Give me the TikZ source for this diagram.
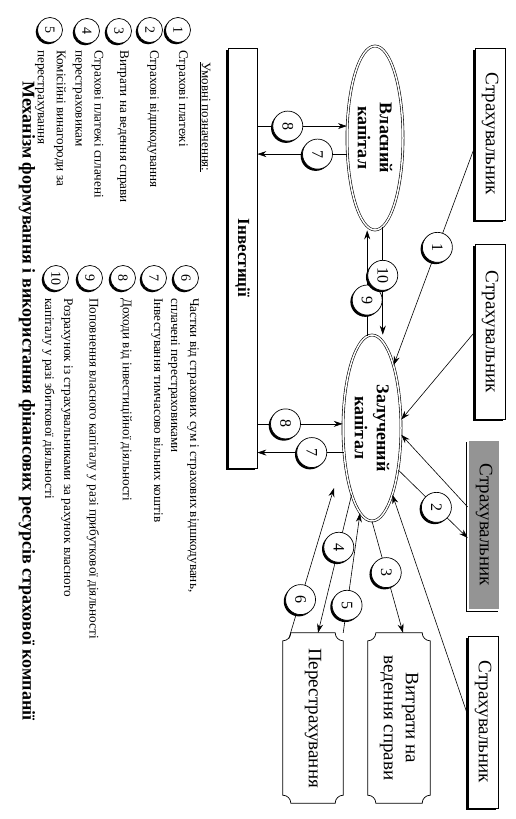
\documentclass[tikz,border=0pt]{standalone}
\usepackage{fontspec}
\setmainfont{Liberation Serif}
\usetikzlibrary{arrows.meta,shadows,calc,shapes.geometric}
\newcommand\ticketbox[2]{%
  \draw[line width=0.7pt] ($(#1.south west)+(#2,0)$) -- ($(#1.south east)+(-#2,0)$)
    arc[start angle=180,end angle=90,radius=#2] -- ($(#1.north east)+(0,-#2)$)
    arc[start angle=270,end angle=180,radius=#2] -- ($(#1.north west)+(#2,0)$)
    arc[start angle=0,end angle=-90,radius=#2] -- ($(#1.south west)+(0,#2)$)
    arc[start angle=90,end angle=0,radius=#2] -- cycle;}
\begin{document}
\begin{tikzpicture}[x=1pt,y=1pt,rotate=-90,transform shape,
  arr/.style={-{Stealth[length=9pt,width=6pt]}, line width=0.6pt},
  shad/.style={drop shadow={shadow xshift=-1.8pt,shadow yshift=-1.8pt,fill=black,opacity=1}},
  client/.style={draw, line width=0.7pt, fill=white, shad, minimum width=172pt, minimum height=30pt, inner sep=0pt, font=\fontsize{19}{19}\selectfont},
  capital/.style={ellipse, draw, double, double distance=1.5pt, line width=0.6pt, fill=white, inner sep=0pt, align=center, font=\bfseries\fontsize{18}{22}\selectfont},
  num/.style={circle, draw, line width=0.7pt, fill=white, shad, minimum size=30pt, inner sep=0pt, font=\fontsize{16}{16}\selectfont},
  lnum/.style={circle, draw, line width=0.7pt, fill=white, shad, minimum size=25pt, inner sep=0pt, font=\fontsize{14}{14}\selectfont},
  legtext/.style={anchor=west, align=left, inner sep=0pt, font=\fontsize{13.2}{19}\selectfont},
  flowbox/.style={minimum width=170pt, inner sep=0pt, align=center, font=\fontsize{19}{22}\selectfont}
]
\useasboundingbox (0,0) rectangle (819,516);

% clients
\node[client] (s1) at (134,490) {Страхувальник};
\node[client, minimum width=175pt] (s2) at (332,490) {Страхувальник};
\node[client, minimum width=170pt, minimum height=32pt, fill=black!42, double, double distance=1.6pt, line width=0.6pt] (s3) at (525,484) {Страхувальник};
\node[client] (s4) at (722,483) {Страхувальник};

% capitals
\node[capital, minimum width=184pt, minimum height=56pt] (vk) at (138,375) {Власний\\капітал};
\node[capital, minimum width=186pt, minimum height=58pt] (zk) at (428,372) {Залучений\\капітал};

% investments
\node[draw, line width=0.7pt, fill=white, shad, minimum width=420pt, minimum height=29pt, inner sep=0pt, font=\bfseries\fontsize{17}{17}\selectfont] (inv) at (258,242.5) {Інвестиції};

% expenses and reinsurance
\node[flowbox, minimum height=62pt] (witr) at (718,399) {Витрати на\\ведення справи};
\ticketbox{witr}{8}
\node[flowbox, minimum height=60pt] (pere) at (718,313) {Перестрахування};
\ticketbox{pere}{8}

\coordinate (t6) at (488,334);

% connectors
\draw[arr] ($(s1.south)+(13,0)$) -- node[num,pos=0.46] (c1) {1} (zk.161);
\draw[arr] (s2.south) -- (zk.106);
\draw[arr] ($(s3.south)+(-18,0)$) -- (zk.77);
\draw[arr] (zk.32) -- node[num,pos=0.55] (c2) {2} ($(s3.south)+(13,0)$);
\draw[arr] ($(s4.south)+(-7,0)$) -- (zk.17);
\draw[arr] (zk.east) -- node[num,pos=0.46] (c3) {3} ($(witr.west)+(0,4)$);
\draw[arr] (zk.-17) -- node[num,pos=0.38] (c4) {4} ($(pere.west)+(0,5)$);
\draw[arr] (pere.north west) -- node[num,pos=0.23] (c5) {5} (zk.-8);
\draw[arr] ($(pere.south west)+(6,6)$) -- node[num,pos=0.26] (c6) {6} (t6);

\draw[arr] (vk.247 |- inv.north) -- node[num,pos=0.34] (c8a) {8} (vk.247);
\draw[arr] (vk.-60) -- node[num,pos=0.33] (c7a) {7} (vk.-60 |- inv.north);
\draw[arr] (zk.262 |- inv.north) -- node[num,pos=0.33] (c8b) {8} (zk.262);
\draw[arr] (zk.-49) -- node[num,pos=0.37] (c7b) {7} (zk.-49 |- inv.north);

\draw[arr] (zk.183) -- node[num,pos=0.34] (c9) {9} (zk.183 -| vk.east);
\draw[arr] (vk.5) -- node[num,pos=0.45] (c10) {10} (vk.5 -| zk.west);

% legend
\node[legtext, font=\fontsize{13}{14}\selectfont] (lhead) at (62,205) {\underline{Умовні позначення:}};

\node[lnum] (l1) at (30,178) {1};
\node[legtext] (lt1) at (50,182) {Страхові платежі};
\node[lnum] (l2) at (30,150) {2};
\node[legtext] (lt2) at (50,153) {Страхові відшкодування};
\node[lnum] (l3) at (31,119) {3};
\node[legtext] (lt3) at (50,123) {Витрати на ведення справи};
\node[lnum] (l4) at (31,87) {4};
\node[legtext] (lt4) at (50,88) {Страхові платежі сплачені\\перестраховикам};
\node[lnum] (l5) at (30,50) {5};
\node[legtext] (lt5) at (50,50.5) {Комісійні винагороди за\\перестрахування};

\node[lnum] (l6) at (278,186) {6};
\node[legtext] (lt6) at (298,183.5) {Частки від страхових сум і страхових відшкодувань,\\сплачені перестраховиками};
\node[lnum] (l7) at (278,154) {7};
\node[legtext] (lt7) at (298,157) {Інвестування тимчасово вільних коштів};
\node[lnum] (l8) at (278,123) {8};
\node[legtext] (lt8) at (298,126) {Доходи від інвестиційної діяльності};
\node[lnum] (l9) at (278,90) {9};
\node[legtext] (lt9) at (298,93) {Поповнення власного капіталу у разі прибуткової діяльності};
\node[lnum] (l10) at (278,56) {10};
\node[legtext] (lt10) at (298,57.5) {Розрахунок із страхувальниками за рахунок власного\\капіталу у разі збиткової діяльності};

% title
\node[font=\bfseries\fontsize{18}{18}\selectfont] (title) at (401,27) {Механізм формування і використання фінансових ресурсів страхової компанії};
\end{tikzpicture}
\end{document}
